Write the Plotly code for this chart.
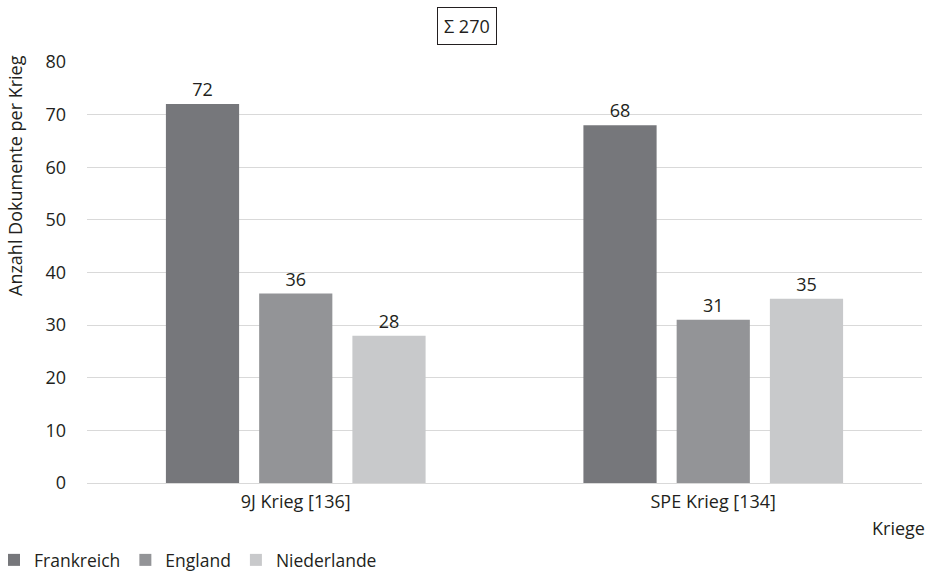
import plotly.graph_objects as go

categories = ["9J Krieg [136]", "SPE Krieg [134]"]
series_names = ["Frankreich", "England", "Niederlande"]
frankreich = [72, 68]
england = [36, 31]
niederlande = [28, 35]
colors = ["#76777b", "#939497", "#c8c9cb"]
y_ticks = [0, 10, 20, 30, 40, 50, 60, 70, 80]
total_label = "Σ 270"

FONT = "Open Sans"
FS = 18
TXT = "#231f20"

fig = go.Figure()
for name, vals, col in zip(series_names, [frankreich, england, niederlande], colors):
    fig.add_trace(go.Bar(
        x=categories, y=vals, name=name,
        marker=dict(color=col, line=dict(width=0)),
        text=[str(v) for v in vals], textposition="outside",
        textfont=dict(family=FONT, size=FS, color=TXT),
        cliponaxis=False,
    ))

W, H = 936, 574
L, R, T, B = 87, 14, 62, 91
pw, ph = W - L - R, H - T - B

def px(x):
    return (x - L) / pw

def py(y):
    return (H - B - y) / ph

fig.update_layout(
    width=W, height=H,
    margin=dict(l=L, r=R, t=T, b=B, autoexpand=False),
    paper_bgcolor="white", plot_bgcolor="white",
    font=dict(family=FONT, size=FS, color=TXT),
    barmode="group", bargap=0.33, bargroupgap=0.215,
    showlegend=True,
    legend=dict(orientation="h", x=px(-6), y=py(578), xanchor="left", yanchor="bottom",
                font=dict(family=FONT, size=FS - 0.5, color=TXT), itemwidth=30,
                tracegroupgap=0, bgcolor="rgba(0,0,0,0)"),
    xaxis=dict(showgrid=False, showline=False, ticks="", ticklabelstandoff=6,
               tickfont=dict(family=FONT, size=FS, color=TXT)),
    yaxis=dict(range=[0, 80], tickvals=y_ticks, showgrid=True, gridcolor="#d9d9d9",
               gridwidth=1.3, zeroline=True, zerolinecolor="#d9d9d9", zerolinewidth=1.3,
               showline=False, ticks="", ticklabelstandoff=20,
               tickfont=dict(family=FONT, size=FS, color=TXT)),
    annotations=[
        dict(text="Anzahl Dokumente per Krieg", xref="paper", yref="paper",
             x=px(15), y=py(176), textangle=-90, showarrow=False,
             xanchor="center", yanchor="middle",
             font=dict(family=FONT, size=FS, color=TXT)),
        dict(text="Kriege", xref="paper", yref="paper", x=px(898), y=py(528),
             showarrow=False, xanchor="center", yanchor="middle",
             font=dict(family=FONT, size=FS, color=TXT)),
        dict(text=total_label, xref="paper", yref="paper", x=px(467), y=py(25.5),
             showarrow=False, xanchor="center", yanchor="middle",
             bordercolor="#231f20", borderwidth=1, borderpad=6, bgcolor="white",
             font=dict(family=FONT, size=FS, color=TXT)),
    ],
)

fig.write_html("out.html", config={"displayModeBar": False},
               post_script="document.body.style.margin='0';")
